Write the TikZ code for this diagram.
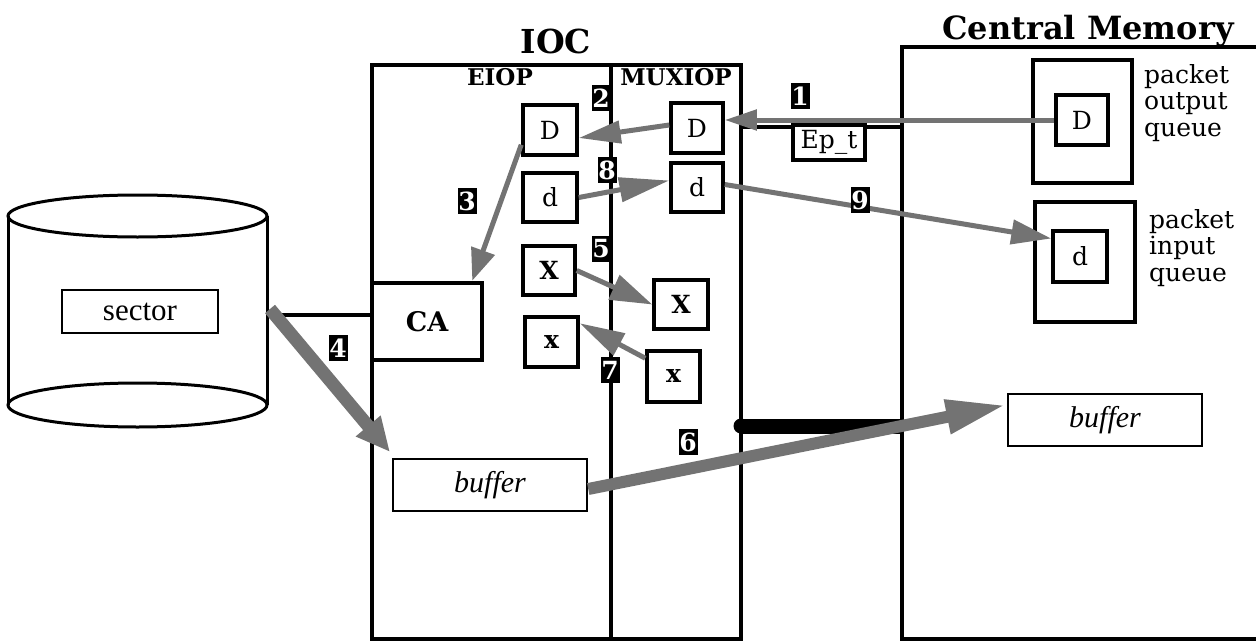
\documentclass[tikz,border=0pt]{standalone}
\usepackage{fontspec}
\setmainfont{DejaVu Serif}
\newfontfamily\timesf{Liberation Serif}
\usetikzlibrary{arrows.meta,calc}
\begin{document}
\begin{tikzpicture}[x=1pt,y=-1pt,
  frame/.style={line width=4.5pt},
  sbox/.style={draw,line width=3.5pt,inner sep=0pt,minimum width=53pt,minimum height=49pt,font=\fontsize{25}{27}\selectfont},
  bbox/.style={sbox,font=\fontsize{25}{27}\selectfont\bfseries},
  num/.style={fill=black,text=white,inner sep=0pt,minimum width=19pt,minimum height=26pt,font=\fontsize{25}{26}\selectfont\bfseries},
  flow/.style={draw=black!55,line width=5pt,-{Triangle[width=22pt,length=38pt]}},
  bigflow/.style={draw=black!55,line width=#1},
  buf/.style={draw,line width=2.5pt,inner sep=0pt,minimum width=194pt,minimum height=52pt,font=\timesf\itshape\fontsize{30}{32}\selectfont},
  qtext/.style={anchor=west,align=left,inner sep=0pt,font=\fontsize{25}{26.5}\selectfont}
]
\useasboundingbox (0,0) rectangle (1256,642);
% frames
\draw[frame] (372,65) rectangle (741,639);
\draw[frame] (611,65) -- (611,639);
\draw[frame] (1256,47) -- (902,47) -- (902,639) -- (1256,639);
\draw[frame] (741,127) -- (902,127);
% thick bus line
\draw[line width=15pt] (741,426) -- (902,426);
\fill (741,426) circle (7.5);
% titles
\node[font=\fontsize{33}{36}\selectfont\bfseries] (iocT) at (556,41) {IOC};
\node[font=\fontsize{32}{36}\selectfont\bfseries,anchor=base] (cmT) at (1088,40) {Central Memory};
\node[font=\fontsize{23}{25}\selectfont\bfseries] (eiopT) at (500,77) {EIOP};
\node[font=\fontsize{23}{25}\selectfont\bfseries] (muxT) at (676,77) {MUXIOP};
% cylinder
\draw[line width=3pt] (8,216) -- (8,405);
\draw[line width=3pt] (267,216) -- (267,405);
\draw[line width=3pt] (137.5,216) ellipse [x radius=129.5, y radius=21];
\draw[line width=3pt] (137.5,405) ellipse [x radius=129.5, y radius=22];
\node[draw,line width=2.5pt,minimum width=156pt,minimum height=43pt,inner sep=0pt,font=\timesf\fontsize{31}{33}\selectfont] (sector) at (140,311.5) {sector};
\draw[line width=3.5pt] (267,315) -- (372,315);
% CA
\node[draw,line width=4.5pt,minimum width=110pt,minimum height=77pt,inner sep=0pt,font=\fontsize{27}{30}\selectfont\bfseries] (CA) at (427,321.5) {CA};
% EIOP boxes
\node[sbox,minimum width=54pt,minimum height=50pt] (eD) at (550,130) {D};
\node[sbox,minimum width=54pt] (ed) at (550,197.5) {d};
\node[bbox,minimum width=52pt] (eX) at (549,270.5) {X};
\node[bbox,minimum height=50pt] (ex) at (551.5,342) {x};
% MUXIOP boxes
\node[sbox,minimum width=52pt,minimum height=50pt] (mD) at (697,128) {D};
\node[sbox,minimum width=52pt] (md) at (697,187.5) {d};
\node[bbox,minimum width=54pt] (mX) at (681,304.5) {X};
\node[bbox,minimum height=51pt] (mx) at (673.5,376.5) {x};
% Ep_t
\node[sbox,fill=white,minimum width=72pt,minimum height=35pt,font=\fontsize{25}{26}\selectfont] (ept) at (829,142.5) {Ep\_t};
% central memory queues
\draw[line width=3.5pt] (1033,60) rectangle (1132,183);
\draw[line width=3.5pt] (1035,202) rectangle (1135,322);
\node[sbox,minimum width=52pt,minimum height=50pt] (cD) at (1082,120) {D};
\node[sbox,minimum width=54pt,minimum height=51pt] (cd) at (1080,256.5) {d};
\node[qtext] (oq) at (1144,103) {packet\\output\\queue};
\node[qtext] (iq) at (1149,248) {packet\\input\\queue};
% buffers
\node[buf] (ibuf) at (490,485) {buffer};
\node[buf] (cbuf) at (1105,420) {buffer};
% coordinates
\coordinate (c4s) at (270,309);
\coordinate (c4e) at (390,452);
\coordinate (c6e) at (1006,405);
% flows
\draw[flow,-{Triangle[width=20pt,length=32pt]}] (cD.west) -- (mD.east |- cD.west);
\draw[flow,-{Triangle[width=22pt,length=42pt]}] ($(mD.west)+(0,-3)$) -- ($(eD.east)+(0,8)$);
\draw[flow,-{Triangle[width=24pt,length=32pt]}] ($(eD.south west)+(0,-12)$) -- ($(CA.north east)+(-12,0)$);
\draw[flow,-{Triangle[width=26pt,length=42pt]}] (eX.east) -- (mX.west);
\draw[flow,-{Triangle[width=24pt,length=45pt]}] ($(mx.north west)+(0,9)$) -- ($(ex.north east)+(0,8)$);
\draw[flow,-{Triangle[width=24pt,length=50pt]}] (ed.east) -- ($(md.west)+(0,-7)$);
\draw[flow,-{Triangle[width=24pt,length=40pt]}] ($(md.east)+(0,-3)$) -- ($(cd.west)+(0,-18)$);
\draw[bigflow=13pt,-{Triangle[width=30pt,length=34pt]}] (c4s) -- (c4e);
\draw[bigflow=12pt,-{Triangle[width=32pt,length=60pt]}] ($(ibuf.east)+(0,4)$) -- (c6e);
% numbers
\node[num] (n1) at (800,96) {1};
\node[num] (n2) at (601,98) {2};
\node[num] (n3) at (467,201) {3};
\node[num] (n4) at (338,348) {4};
\node[num] (n5) at (601,249) {5};
\node[num] (n6) at (688,442) {6};
\node[num] (n7) at (610,370) {7};
\node[num] (n8) at (607,170) {8};
\node[num] (n9) at (860,200) {9};
\end{tikzpicture}
\end{document}
